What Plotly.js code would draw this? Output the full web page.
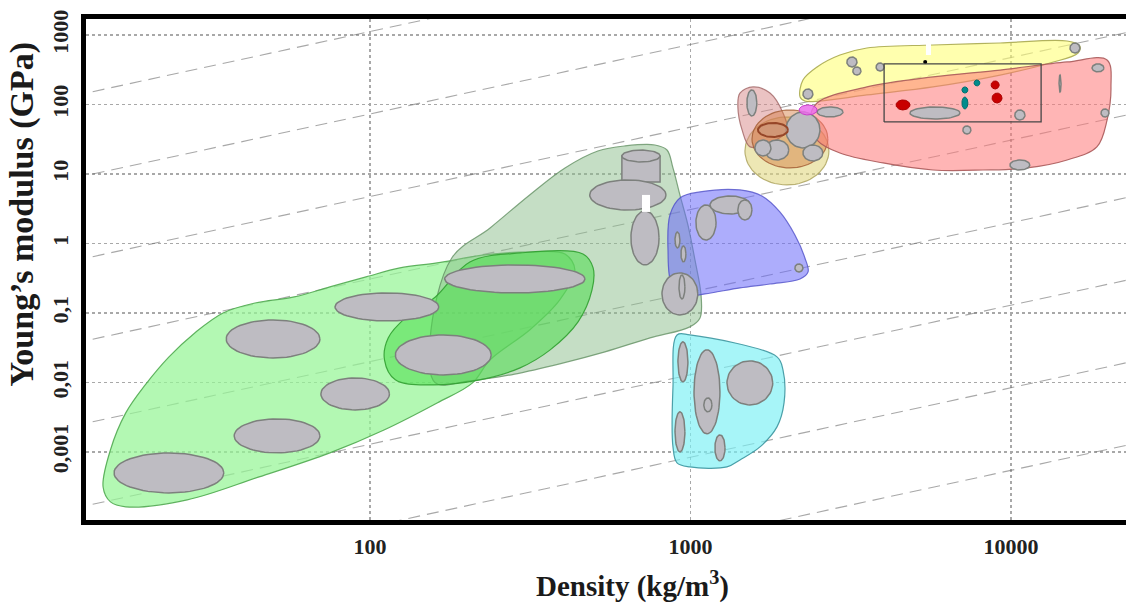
<!DOCTYPE html>
<html><head><meta charset="utf-8">
<script src="https://cdn.plot.ly/plotly-3.0.1.min.js"></script>
<style>html,body{margin:0;padding:0;background:#fff}#chart{width:1126px;height:614px}</style>
</head><body><div id="chart"></div>
<script>
// ---- axis ticks ----
const xTickVals = [100, 1000, 10000];
const xTickText = ['100', '1000', '10000'];
const yTickVals = [0.001, 0.01, 0.1, 1, 10, 100, 1000];
const yTickText = ['0,001', '0,01', '0,1', '1', '10', '100', '1000'];

// ---- guide lines E/rho (GPa per kg/m3) ----
const guideRatios = [11.2, 0.73, 0.0473, 3.07e-3, 1.99e-4, 1.29e-5, 8.37e-7, 5.43e-8];

// ---- envelopes (density kg/m3, modulus GPa) ----
const foamRho = [14.7, 15.5, 17.3, 19.9, 23.6, 28.4, 34.8, 43.8, 58.0, 75.0, 97.2, 124, 162, 227, 315, 406, 436, 391, 315, 237, 209, 162, 110.6, 75.0, 45.1, 26.9, 17.3, 15.5];
const foamE = [3.13e-4, 1.07e-3, 3.64e-3, 9.2e-3, 0.0233, 0.0515, 0.1, 0.139, 0.170, 0.237, 0.330, 0.444, 0.524, 0.684, 0.755, 0.706, 0.416, 0.154, 0.0569, 0.0211, 9.84e-3, 5.07e-3, 2.07e-3, 9.7e-4, 4.37e-4, 2.04e-4, 1.62e-4, 1.91e-4];

const naturalRho = [180, 237, 315, 406, 514, 625, 775, 845, 882, 927, 982, 1033, 1079, 1071, 996, 748, 541, 391, 283, 205, 160, 154];
const naturalE = [0.618, 1.67, 4.99, 12.2, 21.4, 25.3, 26.1, 22.1, 12.2, 4.99, 1.85, 0.579, 0.182, 0.0848, 0.0630, 0.0437, 0.0275, 0.0185, 0.0132, 0.0105, 0.00984, 0.0409];

const elastomerRho = [205, 294, 462, 497, 493, 446, 365, 294, 220, 154, 120, 111, 114, 129, 160];
const elastomerE = [0.542, 0.730, 0.706, 0.444, 0.214, 0.0743, 0.0294, 0.0162, 0.0109, 9.2e-3, 0.0109, 0.0211, 0.0437, 0.0848, 0.170];

const polymerRho = [863, 927, 1071, 1427, 1671, 1901, 2118, 2276, 2328, 2198, 1771, 1427, 1110, 961, 875, 851];
const polymerE = [2.57, 4.52, 5.51, 5.89, 4.82, 2.84, 1.32, 0.618, 0.389, 0.308, 0.261, 0.229, 0.188, 0.176, 0.253, 0.806];

const softRho = [908, 996, 1862, 1944, 1959, 1862, 1648, 1427, 1300, 996, 908, 882, 882];
const softE = [0.0482, 0.0482, 0.0233, 0.0151, 5.07e-3, 2.29e-3, 1.18e-3, 7.67e-4, 6.08e-4, 6.08e-4, 6.95e-4, 1.18e-3, 8.61e-3];

const ceramicRho = [2198, 2244, 2483, 2927, 3553, 5712, 9250, 14970, 16410, 16190, 13240, 9250, 5712, 3553, 2535, 2276];
const ceramicE = [128, 225, 347, 515, 650, 718, 767, 820, 695, 551, 395, 265, 179, 137, 112, 112];

const metalRho = [2483, 3553, 5712, 9250, 14970, 19950, 20520, 19950, 18540, 14970, 11220, 8180, 5712, 3990, 2927, 2483, 2360];
const metalE = [105, 179, 249, 313, 409, 437, 179, 59.8, 24.5, 15.9, 12.2, 11.4, 11.4, 14.4, 20.0, 30.8, 59.8];

const compositeRho = [1427, 1567, 1771, 1944, 2000, 1771, 1535, 1449, 1406];
const compositeE = [146, 179, 146, 75.5, 43.0, 27.9, 24.5, 43.0, 92.1];

// oval envelopes: [rhoMin, rhoMax, Emin, Emax]
const glassOval = [1479, 2704, 6.95, 66.1];
const stoneOval = [1556, 2684, 12.2, 83.4];

// ---- gray material bubbles [rhoMin, rhoMax, Emin, Emax] ----
const bubRhoMin = [15.9, 37.7, 35.6, 70.3, 77.8, 120, 171, 485, 652, 815, 921, 1040, 1151, 1406, 2118, 895, 934, 914, 1026, 1101, 1300, 895, 1192, 1500, 1986, 1708, 2244, 1589, 2483, 3076, 3211, 3795, 2244, 15280, 4840, 10280, 7080, 9930, 17910, 19100, 14130];
const bubRhoMax = [35.0, 69.8, 69.8, 115, 164, 239, 469, 839, 798, 1054, 961, 1202, 1535, 1556, 2244, 927, 968, 982, 1236, 1167, 1806, 961, 1282, 1611, 2535, 2027, 2588, 1783, 2992, 3309, 3404, 4020, 2410, 16410, 6940, 11060, 7500, 11450, 19500, 20230, 14330];
const bubEMin = [2.57e-4, 9.68e-4, 0.0225, 4.02e-3, 0.0767, 0.0128, 0.194, 3.03, 0.491, 0.0935, 0.159, 1.12, 2.66, 2.18, 0.389, 0.861, 0.542, 0.0102, 1.82e-3, 3.77e-3, 4.74e-3, 1.0e-3, 7.43e-4, 68.4, 23.7, 15.9, 15.4, 18.2, 66.1, 347, 265, 303, 120, 551, 61.8, 59.8, 37.6, 11.4, 294, 66.1, 151];
const bubEMax = [9.68e-4, 2.99e-3, 0.0793, 0.0116, 0.194, 0.0482, 0.491, 8.20, 2.94, 0.377, 0.352, 3.58, 4.82, 4.23, 0.507, 1.46, 0.921, 0.0383, 0.0294, 5.98e-3, 0.0204, 3.77e-3, 1.76e-3, 162, 78.0, 30.8, 26.1, 30.8, 92.1, 482, 347, 395, 167, 767, 92.1, 83.4, 49.1, 15.9, 383, 86.1, 265];
// cylinder-like bubble (wood): body box and top cap
const woodBox = [611, 804, 7.67, 18.2];
const woodCap = [611, 804, 14.9, 22.1];

// ---- coloured sample points: [rhoMin, rhoMax, Emin, Emax] ----
const brownOval = [1624, 2015, 34.1, 54.2];
const magentaOval = [2183, 2483, 70.6, 98.4];
const redSamples = [[4380, 4840, 83.4, 116], [8670, 9190, 167, 218], [8730, 9380, 105, 146]];
const tealSamples = [[7030, 7340, 146, 179], [7670, 8000, 185, 225], [7030, 7340, 86.1, 128]];
const whiteMarks = [[706, 748, 2.84, 4.99], [5430, 5630, 515, 793]];
const blackPointRho = [5400];
const blackPointE = [409];
const frameBox = [4020, 12420, 56, 383];

const L = Math.log10;
function oval(r0, r1, e0, e1) {
  const cx = (L(r0) + L(r1)) / 2, ax = (L(r1) - L(r0)) / 2;
  const cy = (L(e0) + L(e1)) / 2, ay = (L(e1) - L(e0)) / 2;
  const x = [], y = [];
  for (let i = 0; i <= 64; i++) {
    const t = 2 * Math.PI * i / 64;
    x.push(Math.pow(10, cx + ax * Math.cos(t)));
    y.push(Math.pow(10, cy + ay * Math.sin(t)));
  }
  return {x, y};
}
function rectPts(r0, r1, e0, e1) {
  return {x: [r0, r1, r1, r0, r0], y: [e0, e0, e1, e1, e0]};
}

const traces = [];
// guide lines
const gx0 = 8, gx1 = 40000;
guideRatios.forEach(r => {
  traces.push({type: 'scatter', mode: 'lines', x: [gx0, gx1], y: [r * gx0, r * gx1],
    line: {color: 'rgba(110,110,110,0.6)', width: 1.1, dash: '12px,7px'}, hoverinfo: 'skip'});
});
function env(x, y, fill, line) {
  traces.push({type: 'scatter', mode: 'lines', x: x.concat([x[0]]), y: y.concat([y[0]]), fill: 'toself',
    fillcolor: fill, line: {color: line, width: 1.2, shape: 'spline', smoothing: 1}, hoverinfo: 'skip'});
}
function ov(b, fill, line, w) {
  const p = oval(b[0], b[1], b[2], b[3]);
  traces.push({type: 'scatter', mode: 'lines', x: p.x, y: p.y, fill: 'toself', fillcolor: fill,
    line: {color: line, width: w || 1.2}, hoverinfo: 'skip'});
}
function box(b, fill, line, w) {
  const p = rectPts(b[0], b[1], b[2], b[3]);
  traces.push({type: 'scatter', mode: 'lines', x: p.x, y: p.y, fill: 'toself', fillcolor: fill,
    line: {color: line, width: w}, hoverinfo: 'skip'});
}
env(foamRho, foamE, 'rgba(150,245,150,0.72)', 'rgba(80,170,80,0.9)');
env(naturalRho, naturalE, 'rgba(140,190,140,0.5)', 'rgba(100,145,100,0.8)');
env(elastomerRho, elastomerE, 'rgba(75,220,75,0.55)', 'rgba(50,160,50,0.9)');
env(polymerRho, polymerE, 'rgba(105,105,250,0.55)', 'rgba(80,80,200,0.8)');
env(softRho, softE, 'rgba(120,240,245,0.65)', 'rgba(60,150,160,0.9)');
ov(glassOval, 'rgba(225,215,130,0.6)', 'rgba(170,160,90,0.8)');
env(compositeRho, compositeE, 'rgba(215,135,135,0.5)', 'rgba(160,100,100,0.8)');
ov(stoneOval, 'rgba(210,120,60,0.45)', 'rgba(160,90,50,0.8)');
env(ceramicRho, ceramicE, 'rgba(255,255,120,0.6)', 'rgba(170,170,80,0.9)');
env(metalRho, metalE, 'rgba(255,120,120,0.55)', 'rgba(170,90,90,0.9)');

const bubFill = 'rgb(190,188,194)', bubLine = 'rgb(125,128,125)';
box(woodBox, bubFill, bubLine, 1.5);
ov(woodCap, bubFill, bubLine, 1.5);
for (let i = 0; i < bubRhoMin.length; i++) {
  ov([bubRhoMin[i], bubRhoMax[i], bubEMin[i], bubEMax[i]], bubFill, bubLine, 1.5);
}
ov(brownOval, 'rgba(205,150,120,0.7)', 'rgb(150,70,40)', 2);
ov(magentaOval, 'rgba(235,110,235,0.85)', 'rgb(200,60,200)', 1);
redSamples.forEach(b => ov(b, 'rgb(200,0,0)', 'rgb(170,0,0)', 1));
tealSamples.forEach(b => ov(b, 'rgb(0,140,140)', 'rgb(0,110,110)', 1));
whiteMarks.forEach(b => box(b, '#ffffff', '#ffffff', 0));
traces.push({type: 'scatter', mode: 'markers', x: blackPointRho, y: blackPointE,
  marker: {color: '#000', size: 4}, hoverinfo: 'skip'});
const fb = rectPts(frameBox[0], frameBox[1], frameBox[2], frameBox[3]);
traces.push({type: 'scatter', mode: 'lines', x: fb.x, y: fb.y, line: {color: 'rgb(70,70,70)', width: 1.3}, hoverinfo: 'skip'});

const serif = 'Liberation Serif, Times New Roman, serif';
const layout = {
  width: 1126, height: 614,
  margin: {l: 86, r: 0, t: 19, b: 94},
  paper_bgcolor: '#fff', plot_bgcolor: '#fff',
  showlegend: false,
  xaxis: {type: 'log', range: [1.114, 4.359], tickvals: xTickVals,
    ticktext: xTickText.map(t => '<b>' + t + '</b>'), ticks: '',
    tickfont: {family: serif, size: 22, color: '#222'},
    showgrid: true, gridcolor: '#a8a8a8', griddash: 'dot', gridwidth: 1.4,
    showline: true, linecolor: '#000', linewidth: 5, mirror: true, zeroline: false,
    ticklabelstandoff: 3},
  yaxis: {type: 'log', range: [-3.98, 3.23], tickvals: yTickVals,
    ticktext: yTickText.map(t => '<b>' + t + '</b>'), ticks: '', tickangle: -90,
    tickfont: {family: serif, size: 22, color: '#222'},
    showgrid: true, gridcolor: '#a8a8a8', griddash: 'dot', gridwidth: 1.4,
    showline: true, linecolor: '#000', linewidth: 5, mirror: false, zeroline: false,
    ticklabelstandoff: 4},
  annotations: [
    {xref: 'paper', yref: 'paper', x: 0.525, y: -0.128, xanchor: 'center', yanchor: 'middle', showarrow: false,
     text: '<b>Density (kg/m<sup>3</sup>)</b>', font: {family: serif, size: 29, color: '#1a1a1a'}},
    {xref: 'paper', yref: 'paper', x: -0.062, y: 0.609, xanchor: 'center', yanchor: 'middle', showarrow: false,
     textangle: -90, text: '<b>Young\u2019s modulus (GPa)</b>', font: {family: serif, size: 34, color: '#1a1a1a'}}
  ]
};
Plotly.newPlot('chart', traces, layout, {displayModeBar: false, staticPlot: true});
</script></body></html>
